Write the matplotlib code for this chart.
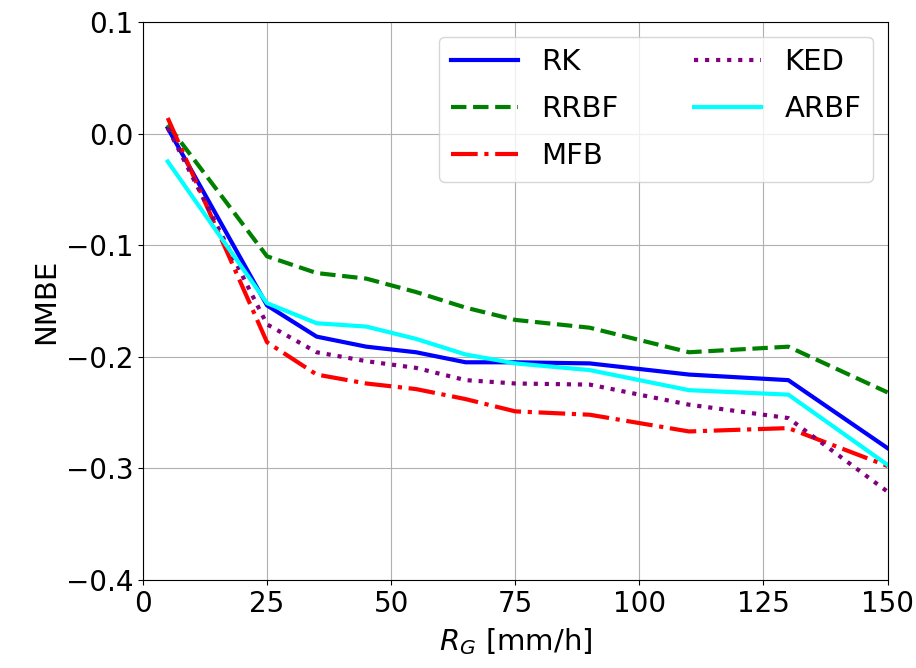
import matplotlib
matplotlib.use("Agg")
import matplotlib.pyplot as plt

rain_rate = [5, 25, 35, 45, 55, 65, 75, 90, 110, 130, 150]

nmbe_rk = [0.005, -0.154, -0.182, -0.191, -0.196, -0.205, -0.205, -0.206, -0.216, -0.221, -0.282]
nmbe_rrbf = [0.008, -0.110, -0.125, -0.130, -0.142, -0.156, -0.167, -0.174, -0.196, -0.191, -0.232]
nmbe_mfb = [0.014, -0.187, -0.216, -0.224, -0.229, -0.238, -0.249, -0.252, -0.267, -0.264, -0.298]
nmbe_ked = [0.005, -0.171, -0.196, -0.204, -0.210, -0.221, -0.224, -0.225, -0.243, -0.255, -0.321]
nmbe_arbf = [-0.025, -0.152, -0.170, -0.173, -0.184, -0.198, -0.206, -0.212, -0.230, -0.234, -0.297]

plt.rcParams["font.size"] = 21

fig, ax = plt.subplots(figsize=(9.16, 6.68), dpi=100)
fig.subplots_adjust(left=0.156, right=0.969, top=0.967, bottom=0.132)

ax.plot(rain_rate, nmbe_rk, color="blue", linestyle="-", lw=3, label="RK")
ax.plot(rain_rate, nmbe_rrbf, color="green", linestyle="--", lw=3, label="RRBF")
ax.plot(rain_rate, nmbe_mfb, color="red", linestyle="-.", lw=3, label="MFB")
ax.plot(rain_rate, nmbe_ked, color="purple", linestyle=":", lw=3, label="KED")
ax.plot(rain_rate, nmbe_arbf, color="cyan", linestyle="-", lw=3, label="ARBF")

ax.set_xlim(0, 150)
ax.set_ylim(-0.4, 0.1)
ax.set_xticks([0, 25, 50, 75, 100, 125, 150])
ax.set_yticks([-0.4, -0.3, -0.2, -0.1, 0.0, 0.1])
ax.grid(True)
ax.set_xlabel(r"$R_G$ [mm/h]", fontsize=21, labelpad=6)
ax.set_ylabel("NMBE", fontsize=21)
ax.tick_params(labelsize=20)
ax.legend(loc="upper right", ncol=2, fontsize=21, handlelength=2.3,
          columnspacing=2.6, labelspacing=0.65)

fig.savefig("out.png")
